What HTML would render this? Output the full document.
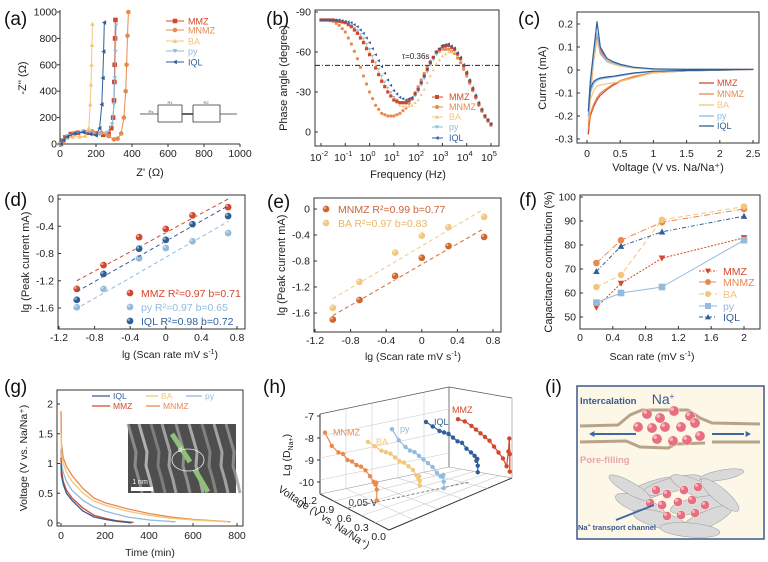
<!DOCTYPE html>
<html><head><meta charset="utf-8"><style>
html,body{margin:0;padding:0;background:#fff;}
svg{display:block;font-family:"Liberation Sans",sans-serif;}
</style></head><body>
<svg id="fig" width="768" height="562" viewBox="0 0 768 562" xmlns="http://www.w3.org/2000/svg"></svg>
<script>
// ---------- DATA ----------
const seriesNames = ["MMZ","MNMZ","BA","py","IQL"];
// (a) Nyquist
const nyqZre = {
  MMZ:[5,15,30,60,100,150,200,240,270,285,295,300,302,304,306,308],
  MNMZ:[5,20,40,80,130,180,230,270,300,320,340,355,365,370,375,380],
  BA:[5,20,40,70,110,140,160,168,172,175,178,180],
  py:[5,20,40,80,130,180,220,260,290,300,305,308,312],
  IQL:[5,20,40,80,130,170,200,220,232,238,242,246]
};
const nyqZim = {
  MMZ:[0,25,50,75,85,85,80,70,75,120,200,330,470,600,800,940],
  MNMZ:[0,30,55,80,95,95,85,60,35,40,80,200,400,600,820,1000],
  BA:[0,25,45,55,55,60,120,300,450,600,750,910],
  py:[0,30,60,85,95,85,75,85,150,300,500,700,900],
  IQL:[0,30,55,80,90,75,65,120,300,500,700,920]
};
const nyqTicks = [0,200,400,600,800,1000];
// (b) Bode phase
const bodeLogF = [-2,-1.75,-1.5,-1.25,-1,-0.75,-0.5,-0.25,0,0.25,0.5,0.75,1,1.25,1.5,1.75,2,2.25,2.5,2.75,3,3.25,3.5,3.75,4,4.25,4.5,4.75,5];
const bodePhase = {
  MMZ:[84,84,84,83,82,79,74,67,58,48,38,30,24,22,22,25,32,42,52,60,64,65,62,55,44,32,21,12,6],
  MNMZ:[84,84,83,80,75,66,55,42,30,20,14,12,12,14,18,25,34,44,53,59,62,62,59,52,42,31,20,11,5],
  BA:[84,84,84,83,82,80,76,69,60,50,40,31,24,20,19,20,24,32,42,51,57,60,60,55,45,34,23,13,6],
  py:[84,84,84,83,82,80,76,70,62,52,42,33,26,22,21,24,30,40,50,58,63,64,61,54,43,31,20,11,5],
  IQL:[84,84,84,84,83,82,79,74,67,58,49,39,31,26,24,26,32,42,52,60,65,66,63,56,45,33,22,12,6]
};
const bodeYTicks = [-90,-60,-30,0];
const bodeXTicks = [-2,-1,0,1,2,3,4,5];
// (c) CV
const cvV = [0.02,0.05,0.1,0.15,0.2,0.3,0.4,0.5,0.7,1.0,1.5,2.0,2.5];
const cvUp = {
  MMZ:[-0.28,-0.1,0.05,0.15,0.09,0.05,0.035,0.025,0.01,0.004,0.002,0.002,0.002],
  MNMZ:[-0.26,-0.1,0.04,0.13,0.08,0.04,0.03,0.02,0.01,0.004,0.002,0.002,0.002],
  BA:[-0.22,-0.08,0.05,0.13,0.07,0.035,0.025,0.017,0.008,0.003,0.002,0.002,0.002],
  py:[-0.2,-0.06,0.07,0.16,0.07,0.04,0.03,0.02,0.01,0.004,0.002,0.002,0.002],
  IQL:[-0.18,-0.05,0.08,0.21,0.1,0.05,0.035,0.025,0.012,0.005,0.003,0.003,0.003]
};
const cvDown = {
  MMZ:[-0.28,-0.2,-0.16,-0.13,-0.11,-0.085,-0.065,-0.05,-0.03,-0.012,-0.004,-0.001,0.002],
  MNMZ:[-0.26,-0.19,-0.15,-0.12,-0.1,-0.08,-0.06,-0.046,-0.028,-0.01,-0.004,-0.001,0.002],
  BA:[-0.22,-0.13,-0.09,-0.07,-0.065,-0.06,-0.055,-0.05,-0.035,-0.012,-0.004,-0.001,0.002],
  py:[-0.2,-0.1,-0.06,-0.045,-0.04,-0.035,-0.03,-0.025,-0.015,-0.006,-0.002,0,0.002],
  IQL:[-0.18,-0.08,-0.05,-0.04,-0.035,-0.03,-0.027,-0.022,-0.013,-0.005,-0.002,0,0.003]
};
const cvXTicks = [0,0.5,1,1.5,2,2.5];
const cvXLabels = ["0","0.5","1","1.5","2","2.5"];
const cvYTicks = [0.2,0.1,0,-0.1,-0.2,-0.3];
const cvYLabels = ["0.2","0.1","0","-0.1","-0.2","-0.3"];
// (d),(e) b-value
const lgScan = [-1,-0.7,-0.3,0,0.3,0.7];
const dPeak = {
  MMZ:[-1.32,-0.97,-0.56,-0.44,-0.24,-0.12],
  py:[-1.59,-1.32,-0.87,-0.72,-0.62,-0.5],
  IQL:[-1.48,-1.1,-0.73,-0.6,-0.37,-0.25]
};
const dFitX = {MMZ:[-1,0.7],py:[-0.95,0.7],IQL:[-1,0.7]};
const dFitY = {MMZ:[-1.2,0],py:[-1.57,-0.33],IQL:[-1.36,-0.1]};
const dLegend = ["MMZ R\u00b2=0.97 b=0.71","py R\u00b2=0.97 b=0.65","IQL R\u00b2=0.98 b=0.72"];
const ePeak = {
  MNMZ:[-1.7,-1.4,-1.03,-0.75,-0.57,-0.43],
  BA:[-1.52,-1.12,-0.67,-0.41,-0.28,-0.12]
};
const eFitX = {MNMZ:[-1,0.7],BA:[-1,0.7]};
const eFitY = {MNMZ:[-1.64,-0.3],BA:[-1.38,0]};
const lgXTicks = [-1.2,-0.8,-0.4,0,0.4,0.8];
const lgXLabels = ["-1.2","-0.8","-0.4","0","0.4","0.8"];
const lgYTicks = [0,-0.4,-0.8,-1.2,-1.6];
const lgYLabels = ["0","-0.4","-0.8","-1.2","-1.6"];
// (f) capacitance contribution
const fRate = [0.2,0.5,1,2];
const fCap = {
  MMZ:[54,64,74.5,83],
  MNMZ:[72.5,82,89.5,95],
  BA:[62.5,67.5,90.5,96],
  py:[56,60,62.5,82],
  IQL:[69,79.5,85.5,92]
};
const fXTicks = [0,0.4,0.8,1.2,1.6,2];
const fXLabels = ["0","0.4","0.8","1.2","1.6","2"];
const fYTicks = [50,60,70,80,90,100];
// (g) discharge
const gTime = {
  IQL:[0,2,10,25,50,100,150,200,250,300,320],
  MMZ:[0,2,10,25,50,100,150,200,250,300,330],
  py:[0,2,10,25,50,100,150,200,300,400,520],
  BA:[0,2,10,25,50,100,150,200,300,400,500,600,760],
  MNMZ:[0,2,10,25,50,100,150,200,300,400,500,600,770]
};
const gVolt = {
  IQL:[1.0,0.8,0.65,0.5,0.38,0.2,0.1,0.06,0.03,0.01,0.0],
  MMZ:[1.1,0.9,0.7,0.55,0.42,0.25,0.13,0.08,0.04,0.02,0.01],
  py:[1.25,1.0,0.85,0.7,0.55,0.38,0.27,0.2,0.1,0.05,0.02],
  BA:[1.5,1.2,1.0,0.85,0.7,0.5,0.37,0.3,0.2,0.13,0.08,0.05,0.02],
  MNMZ:[1.88,1.35,1.1,0.95,0.8,0.58,0.42,0.34,0.24,0.16,0.1,0.06,0.02]
};
const gXTicks = [0,200,400,600,800];
const gYTicks = [0,0.5,1,1.5,2];
const gYLabels = ["0","0.5","1","1.5","2"];
// (h) 3D diffusion
const hOrder = ["MNMZ","BA","py","IQL","MMZ"];
const hVolt = [1.2,1.05,0.9,0.8,0.7,0.6,0.5,0.4,0.3,0.2,0.12,0.08,0.06,0.05,0.05];
const hLgD = {
  MNMZ:[-7.8,-8.3,-8.5,-8.5,-8.7,-8.7,-8.8,-8.8,-8.9,-9.1,-9.3,-9.4,-9.3,-9.6,-10.1],
  BA:[-8.4,-8.5,-8.6,-8.6,-8.6,-8.7,-8.8,-8.8,-8.9,-9.0,-9.2,-9.3,-9.2,-9.4,-9.6],
  py:[-8.1,-8.5,-8.7,-8.8,-8.8,-8.9,-9.0,-9.1,-9.2,-9.4,-9.5,-9.5,-9.4,-9.7,-10.0],
  IQL:[-8.0,-8.1,-8.2,-8.2,-8.2,-8.3,-8.4,-8.4,-8.6,-8.7,-8.8,-9.0,-8.9,-9.2,-9.5],
  MMZ:[-8.1,-8.1,-8.2,-8.3,-8.4,-8.5,-8.6,-8.8,-9.0,-9.2,-9.5,-8.8,-8.2,-8.9,-9.7]
};
const hZTicks = [-7,-8,-9,-10];
const hVTicks = [1.2,0.9,0.6,0.3,0.0];
const hVLabels = ["1.2","0.9","0.6","0.3","0.0"];

const COL = {MMZ:"#d2482c",MNMZ:"#e98a4c",BA:"#f3c67c",py:"#92bbdd",IQL:"#305f98"};
const NS = "http://www.w3.org/2000/svg";
const svg = document.getElementById("fig");

function mk(tag, parent){ const e=document.createElementNS(NS,tag); (parent||svg).appendChild(e); return e; }
function lin(d0,d1,r0,r1){ return v => r0+(v-d0)*(r1-r0)/(d1-d0); }
function setA(e,o){ for(const k in o) e.setAttribute(k,o[k]); return e; }
function group(name){ const g=mk("g"); 

 return g; }
function txt(g,name,x,y,s,size,anchor,fill,extra){
  const t=mk("text",g);
  
  
  setA(t,{x:x,y:y,"font-size":size||10,"text-anchor":anchor||"middle",fill:fill||"#222"});
  if(extra) setA(t,extra);
  t.textContent=s; return t;
}
function line(g,name,x1,y1,x2,y2,stroke,w,dash){
  const l=mk("line",g);
  
  
  setA(l,{x1:x1,y1:y1,x2:x2,y2:y2,stroke:stroke||"#333","stroke-width":w||1});
  if(dash) l.setAttribute("stroke-dasharray",dash);
  return l;
}
function poly(g,name,pts,stroke,w,dash,fill){
  const p=mk("polyline",g);
  
  
  setA(p,{points:pts.map(q=>q[0].toFixed(1)+","+q[1].toFixed(1)).join(" "),fill:fill||"none",stroke:stroke,"stroke-width":w||1,"stroke-linejoin":"round"});
  if(dash) p.setAttribute("stroke-dasharray",dash);
  return p;
}
function marker(g,name,shape,x,y,r,fill){
  let e;
  if(shape==="circle"){ e=mk("circle",g); setA(e,{cx:x,cy:y,r:r}); }
  else if(shape==="square"){ e=mk("rect",g); setA(e,{x:x-r,y:y-r,width:2*r,height:2*r}); }
  else { e=mk("polygon",g); let p;
    if(shape==="up") p=[[x,y-r],[x+r,y+r*0.8],[x-r,y+r*0.8]];
    else if(shape==="down") p=[[x,y+r],[x+r,y-r*0.8],[x-r,y-r*0.8]];
    else p=[[x-r,y],[x+r*0.8,y-r],[x+r*0.8,y+r]];
    e.setAttribute("points",p.map(q=>q.join(",")).join(" ")); }
  
  
  e.setAttribute("fill",fill); return e;
}
function ball(g,name,x,y,r,fill){
  const c=mk("circle",g);
  
  
  setA(c,{cx:x,cy:y,r:r,fill:fill,stroke:"#fff","stroke-width":0.5});
  const h=mk("circle",g); setA(h,{cx:x-r*0.35,cy:y-r*0.35,r:r*0.35,fill:"#fff",opacity:0.5});
  
  
}
function frame(g,name,x0,y0,x1,y1){
  const r=mk("rect",g);
  
  
  setA(r,{x:x0,y:y0,width:x1-x0,height:y1-y0,fill:"none",stroke:"#333","stroke-width":1});
}
function xTicks(g,prefix,ticks,labels,X,yb,ly,inward){
  ticks.forEach((t,i)=>{ line(g,prefix+"-tick",X(t),yb,X(t),yb+(inward?-3:3),"#333",1);
    txt(g,prefix+"-label",X(t),ly,labels?labels[i]:String(t),10.5); });
}
function yTicks(g,prefix,ticks,labels,Y,xl,lx,inward){
  ticks.forEach((t,i)=>{ line(g,prefix+"-tick",xl,Y(t),xl+(inward?3:-3),Y(t),"#333",1);
    txt(g,prefix+"-label",lx,Y(t)+3.5,labels?labels[i]:String(t),10.5,"end"); });
}
function panelLabel(s,x,y){ const g=group("panel-label-"+s.replace(/[()]/g,"")); txt(g,"panel-label",x,y,s,19,"start","#111"); }
function ytitle(g,name,x,y,s,size){ const t=txt(g,name,x,y,s,size||11,"middle","#222"); t.setAttribute("transform","rotate(-90 "+x+" "+y+")"); return t;}

// ---------- (a) ----------
(function(){
  const g=group("panel-a-nyquist");
  const X=lin(0,1000,60,240), Y=lin(0,1000,144,12);
  line(g,"x-axis",60,144,240,144); line(g,"y-axis",60,144,60,10);
  xTicks(g,"x-tick",nyqTicks,null,X,144,157);
  yTicks(g,"y-tick",nyqTicks,null,Y,60,57);
  txt(g,"x-axis-title",150,176,"Z' (\u03a9)",11);
  ytitle(g,"y-axis-title",26,78,"-Z'' (\u03a9)");
  const shapes={MMZ:"square",MNMZ:"circle",BA:"up",py:"down",IQL:"left"};
  seriesNames.forEach(s=>{
    const pts=nyqZre[s].map((v,i)=>[X(v),Y(nyqZim[s][i])]);
    poly(g,"nyquist-line-"+s,pts,COL[s],1);
    pts.forEach(p=>marker(g,"nyquist-point-"+s,shapes[s],p[0],p[1],2.3,COL[s]));
  });
  const ly=[21,30,41,51,62];
  seriesNames.forEach((s,i)=>{ line(g,"legend-line-"+s,166,ly[i],184,ly[i],COL[s],1);
    marker(g,"legend-marker-"+s,shapes[s],175,ly[i],2.3,COL[s]);
    txt(g,"legend-label-"+s,188,ly[i]+3.5,s,9,"start",COL[s]); });
  const c=group("equivalent-circuit");
  poly(c,"circuit-wire",[[140,114],[158,114]],"#333",0.8);
  poly(c,"circuit-wire",[[158,105],[158,122]],"#333",0.8);
  poly(c,"circuit-wire",[[158,105],[182,105],[182,122],[158,122]],"#333",0.8);
  poly(c,"circuit-wire",[[182,114],[193,114]],"#333",1.5);
  poly(c,"circuit-wire",[[193,105],[220,105],[220,122],[193,122],[193,105]],"#333",0.8);
  poly(c,"circuit-wire",[[220,114],[237,114]],"#333",0.8);
  txt(c,"circuit-label",151,113,"Rs",4,"middle","#555");
  txt(c,"circuit-label",170,104,"R1",4,"middle","#555");
  txt(c,"circuit-label",206,104,"R2",4,"middle","#555");
})();

// ---------- (b) ----------
(function(){
  const g=group("panel-b-bode");
  const X=lin(-2,5,321,491), Y=lin(0,90,132,12);
  frame(g,"plot-frame",315,10,499,146);
  bodeXTicks.forEach(t=>{ line(g,"x-tick",X(t),146,X(t),143);
    const tx=txt(g,"x-tick-label",X(t)-2,161,"10",10.5);
    const sp=mk("tspan",tx); setA(sp,{dy:-5,"font-size":7.5}); sp.textContent=String(t); });
  yTicks(g,"y-tick",bodeYTicks.map(v=>-v),bodeYTicks.map(String),Y,315,311,true);
  txt(g,"x-axis-title",408,178,"Frequency (Hz)",11);
  ytitle(g,"y-axis-title",287,78,"Phase angle (degree)");
  line(g,"tau-reference-line",315,Y(50),499,Y(50),"#222",1,"5,2,1,2");
  txt(g,"tau-label",402,59,"\u03c4=0.36s",8,"start","#222");
  const shapes={MMZ:"square",MNMZ:"circle",BA:"up",py:"down",IQL:"left"};
  ["MNMZ","BA","py","MMZ","IQL"].forEach(s=>{
    bodeLogF.forEach((f,i)=>{ marker(g,"bode-point-"+s,shapes[s],X(f),Y(bodePhase[s][i]),1.6,COL[s]);
      if(i<bodeLogF.length-1){ const f2=(f+bodeLogF[i+1])/2, p2=(bodePhase[s][i]+bodePhase[s][i+1])/2;
        marker(g,"bode-point-"+s,shapes[s],X(f2),Y(p2),1.6,COL[s]); } });
  });
  const ly=[97,107,117,127,138];
  seriesNames.forEach((s,i)=>{ line(g,"legend-line-"+s,432,ly[i],443,ly[i],COL[s],1);
    marker(g,"legend-marker-"+s,shapes[s],437,ly[i],2,COL[s]);
    txt(g,"legend-label-"+s,449,ly[i]+3,s,9,"start",COL[s]); });
})();

// ---------- (c) ----------
(function(){
  const g=group("panel-c-cv");
  const X=lin(0,2.5,587,753), Y=lin(0,0.2,70,24);
  frame(g,"plot-frame",577,12,759,143);
  xTicks(g,"x-tick",cvXTicks,cvXLabels,X,143,157,true);
  yTicks(g,"y-tick",cvYTicks,cvYLabels,Y,577,573,true);
  txt(g,"x-axis-title",668,171,"Voltage (V vs. Na/Na\u207a)",11);
  ytitle(g,"y-axis-title",546,78,"Current (mA)");
  ["MMZ","MNMZ","BA","py","IQL"].forEach(s=>{
    const up=cvV.map((v,i)=>[X(v),Y(cvUp[s][i])]);
    const dn=cvV.map((v,i)=>[X(v),Y(cvDown[s][i])]).reverse();
    poly(g,"cv-loop-"+s,up.concat(dn).concat([up[0]]),COL[s],1.2);
  });
  const ly=[83,94,105,116,126];
  seriesNames.forEach((s,i)=>{ line(g,"legend-line-"+s,699,ly[i],714,ly[i],COL[s],1.3);
    txt(g,"legend-label-"+s,717,ly[i]+3,s,9,"start",COL[s]); });
})();

// ---------- (d) ----------
(function(){
  const g=group("panel-d-bvalue");
  const X=lin(-1.2,0.8,59,237), Y=lin(0,-1.6,199,308);
  frame(g,"plot-frame",58,195,245,329);
  xTicks(g,"x-tick",lgXTicks,lgXLabels,X,329,341,true);
  yTicks(g,"y-tick",lgYTicks,lgYLabels,Y,58,54,true);
  const t=txt(g,"x-axis-title",170,358,"lg (Scan rate mV s",10.5);
  const sp=mk("tspan",t); setA(sp,{dy:-4,"font-size":7}); sp.textContent="-1";
  const sp2=mk("tspan",t); setA(sp2,{dy:4}); sp2.textContent=")";
  ytitle(g,"y-axis-title",29,262,"lg (Peak current mA)");
  ["MMZ","py","IQL"].forEach((s,k)=>{
    line(g,"fit-line-"+s,X(dFitX[s][0]),Y(dFitY[s][0]),X(dFitX[s][1]),Y(dFitY[s][1]),COL[s],1,"4,3");
    lgScan.forEach((v,i)=>ball(g,"point-"+s,X(v),Y(dPeak[s][i]),3.6,COL[s]));
    const ly=[293,307,321][k];
    ball(g,"legend-marker-"+s,130,ly,3.6,COL[s]);
    txt(g,"legend-label-"+s,141,ly+4,dLegend[k],10.5,"start",COL[s]);
  });
})();

// ---------- (e) ----------
(function(){
  const g=group("panel-e-bvalue");
  const X=lin(-1.2,0.8,315,493), Y=lin(0,-1.6,209,313);
  frame(g,"plot-frame",314,198,501,332);
  xTicks(g,"x-tick",lgXTicks,lgXLabels,X,332,344,true);
  yTicks(g,"y-tick",lgYTicks,lgYLabels,Y,314,310,true);
  const t=txt(g,"x-axis-title",413,360,"lg (Scan rate mV s",10.5);
  const sp=mk("tspan",t); setA(sp,{dy:-4,"font-size":7}); sp.textContent="-1";
  const sp2=mk("tspan",t); setA(sp2,{dy:4}); sp2.textContent=")";
  ytitle(g,"y-axis-title",285,265,"lg (Peak current mA)");
  const leg=["MNMZ  R\u00b2=0.99 b=0.77","BA R\u00b2=0.97 b=0.83"];
  const lc={MNMZ:"#d2672e",BA:"#f0c884"};
  ["MNMZ","BA"].forEach((s,k)=>{
    line(g,"fit-line-"+s,X(eFitX[s][0]),Y(eFitY[s][0]),X(eFitX[s][1]),Y(eFitY[s][1]),lc[s],1,"4,3");
    ePeak[s].forEach((v,i)=>ball(g,"point-"+s,X(lgScan[i]),Y(v),3.6,lc[s]));
    const ly=[209,223][k];
    ball(g,"legend-marker-"+s,326,ly,3.6,lc[s]);
    txt(g,"legend-label-"+s,338,ly+4,leg[k],10.5,"start",k?"#e9b860":"#c8653a");
  });
})();

// ---------- (f) ----------
(function(){
  const g=group("panel-f-capacitance");
  const X=lin(0,2,580,744), Y=lin(100,50,197,317);
  frame(g,"plot-frame",580,195,760,329);
  xTicks(g,"x-tick",fXTicks,fXLabels,X,329,341,true);
  yTicks(g,"y-tick",fYTicks,null,Y,580,576,true);
  const t=txt(g,"x-axis-title",652,360,"Scan rate (mV s",10.5);
  const sp=mk("tspan",t); setA(sp,{dy:-4,"font-size":7}); sp.textContent="-1";
  const sp2=mk("tspan",t); setA(sp2,{dy:4}); sp2.textContent=")";
  ytitle(g,"y-axis-title",552,262,"Capacitance contribution (%)");
  const shapes={MMZ:"down",MNMZ:"circle",BA:"circle",py:"square",IQL:"up"};
  const dash={MMZ:"2,1.5",MNMZ:"6,2,1,2",BA:"5,3",py:"",IQL:"4,2,1,2"};
  seriesNames.forEach((s,k)=>{
    const pts=fRate.map((v,i)=>[X(v),Y(fCap[s][i])]);
    poly(g,"series-line-"+s,pts,COL[s],1,dash[s]);
    pts.forEach(p=>marker(g,"series-marker-"+s,shapes[s],p[0],p[1],3.3,COL[s]));
    const ly=[271,282,294,306,317][k];
    line(g,"legend-line-"+s,699,ly,717,ly,COL[s],1,dash[s]);
    marker(g,"legend-marker-"+s,shapes[s],708,ly,3,COL[s]);
    txt(g,"legend-label-"+s,723,ly+4,s,10.5,"start",COL[s]);
  });
})();

// ---------- (g) ----------
(function(){
  const g=group("panel-g-discharge");
  const X=lin(0,800,61,237), Y=lin(0,2,523,404);
  frame(g,"plot-frame",57,390,243,526);
  xTicks(g,"x-tick",gXTicks,null,X,526,539,true);
  yTicks(g,"y-tick",gYTicks,gYLabels,Y,57,53,true);
  txt(g,"x-axis-title",150,556,"Time (min)",10.5);
  ytitle(g,"y-axis-title",27,458,"Voltage (V vs. Na/Na\u207a)",10.5);
  const ins=group("tem-inset");
  const r=mk("rect",ins); setA(r,{x:128,y:424,width:108,height:69,fill:"#4e4e4e"});
  
  
  const fr=[[132,"#9a9a9a"],[143,"#c9c9c9"],[155,"#8a8a8a"],[166,"#b5b5b5"],[180,"#9f9f9f"],[193,"#c0c0c0"],[206,"#8e8e8e"],[218,"#b8b8b8"],[230,"#9a9a9a"]];
  fr.forEach(a=>{ const x0=a[0]; const p=poly(ins,"lattice-fringe",[[x0-4,424],[x0,438],[x0+4,452],[x0+3,466],[x0+7,480],[x0+10,493]],a[1],3);
    p.setAttribute("opacity","0.8"); });
  line(ins,"lattice-marker",172,434,190,462,"#8fc07a",5);
  line(ins,"lattice-marker",195,470,208,492,"#8fc07a",5);
  const el=mk("ellipse",ins); setA(el,{cx:188,cy:460,rx:16,ry:11,fill:"none",stroke:"#eee","stroke-width":0.8});
  
  
  txt(ins,"d-spacing-label",180,452,"d",7,"middle","#fff");
  txt(ins,"scale-bar-label",140,484,"1 nm",7,"middle","#fff");
  const sb=mk("rect",ins); setA(sb,{x:131,y:487,width:22,height:4,fill:"#fff"});
  
  
  ["MNMZ","BA","py","MMZ","IQL"].forEach(s=>{
    poly(g,"discharge-curve-"+s,gTime[s].map((v,i)=>[X(v),Y(gVolt[s][i])]),COL[s],1.3);
  });
  const L=[["IQL",92,110,396],["BA",146,158,396],["py",186,202,396],["MMZ",92,110,406],["MNMZ",146,160,406]];
  L.forEach(a=>{ line(g,"legend-line-"+a[0],a[1],a[3],a[2],a[3],COL[a[0]],1.3);
    txt(g,"legend-label-"+a[0],a[2]+3,a[3]+3,a[0],8.5,"start",COL[a[0]]); });
})();

// ---------- (h) ----------
(function(){
  const g=group("panel-h-3d-diffusion");
  const gc="#ccc";
  poly(g,"back-wall-edge",[[320,414],[449,387],[512,398]],"#555",0.8);
  line(g,"z-axis",320,414,320,494,"#333",1);
  line(g,"back-right-edge",449,387,449,467,"#555",0.8);
  line(g,"right-edge",512,398,512,478,"#aaa",0.8);
  poly(g,"floor-edge",[[320,494],[389,530],[512,478]],"#333",1);
  poly(g,"floor-back-edge",[[320,494],[449,467],[512,478]],"#999",0.6);
  for(let k=1;k<5;k++){ const x=320+k*26,y=414-k*5.4; line(g,"back-wall-grid",x,y,x,y+80,gc,0.6); }
  for(let k=1;k<4;k++){ line(g,"back-wall-grid",320,414+k*22,449,387+k*22,gc,0.6); }
  for(let k=1;k<5;k++){ const t=k/5; line(g,"floor-grid",320+69*t,494+36*t,449+63*t,467+11*t,gc,0.6);
    line(g,"floor-grid",320+129*t,494-27*t,389+123*t,530-52*t,gc,0.6); }
  line(g,"cutoff-line",348,508,470,482,"#666",0.8,"3,2");
  txt(g,"cutoff-label",363,506,"0.05 V",10,"middle","#444");
  hZTicks.forEach(z=>{ const y=414+(-7-z)*22+2; txt(g,"z-tick-label",314,y+4,String(z),10.5,"end"); line(g,"z-tick",320,y,317,y,"#333"); });
  hVTicks.forEach((v,i)=>{ const t=(1.2-v)/1.2; txt(g,"v-tick-label",321+69*t-4,499+36*t+5,hVLabels[i],10.5,"end"); });
  const lt=txt(g,"z-axis-title",290,455,"Lg (D",10.5,"middle","#222");
  const s1=mk("tspan",lt); setA(s1,{dy:3,"font-size":7}); s1.textContent="Na+";
  const s2=mk("tspan",lt); setA(s2,{dy:-3}); s2.textContent=")";
  lt.setAttribute("transform","rotate(-90 290 455)");
  const vt=txt(g,"voltage-axis-title",322,520,"Voltage (V vs. Na/Na\u207a)",10.5,"middle","#222");
  vt.setAttribute("transform","rotate(33 322 520)");
  const baseX=[325,368,392,426,458], baseY=[481,477,471,466,461];
  const PX=45, PY=15, ZS=22;
  hOrder.forEach((s,k)=>{
    const pts=hVolt.map((v,i)=>[baseX[k]+(1.2-v)*PX, baseY[k]+(1.2-v)*PY-(hLgD[s][i]+10)*ZS]);
    poly(g,"diffusion-line-"+s,pts,COL[s],1.2);
    pts.forEach(p=>marker(g,"diffusion-point-"+s,"circle",p[0],p[1],2.2,COL[s]));
    txt(g,"series-label-"+s,pts[0][0]+(s==="MMZ"?-6:8),pts[0][1]+(s==="MMZ"?-6:3),s,9,"start",COL[s]);
  });
})();

// ---------- (i) ----------
(function(){
  const g=group("panel-i-mechanism");
  const r=mk("rect",g); setA(r,{x:577,y:386,width:187,height:153,fill:"#fdf7e8",stroke:"#3a5a8c","stroke-width":1.5});
  
  
  txt(g,"intercalation-label",580,404,"Intercalation",9.5,"start","#3a5a8c",{"font-weight":"bold"});
  const na=txt(g,"na-ion-label",663,404,"Na",14,"middle","#3a5a8c");
  const sp=mk("tspan",na); setA(sp,{dy:-5,"font-size":8}); sp.textContent="+";
  poly(g,"carbon-layer-top",[[580,426],[618,425],[630,415],[642,410],[688,410],[700,418],[712,423],[760,424]],"#b5a48a",3);
  poly(g,"carbon-layer-bottom",[[580,442],[626,441],[640,447],[668,448],[676,444],[705,443]],"#b5a48a",3);
  line(g,"carbon-layer-bottom-right",712,442,760,442,"#b5a48a",3);
  line(g,"arrow-left",636,434,594,434,"#3a6aa0",2);
  marker(g,"arrow-left-head","left",592,434,3,"#3a6aa0");
  line(g,"arrow-right",712,434,744,434,"#3a6aa0",2);
  marker(g,"arrow-right-head","left",748,434,3,"#3a6aa0").setAttribute("transform","rotate(180 748 434)");
  const ions=[[647,414],[660,418],[674,411],[690,416],[652,428],[665,427],[681,427],[695,423],[657,439],[673,441],[687,440],[700,436],[638,427]];
  ions.forEach(p=>ball(g,"na-ion",p[0],p[1],5.2,"#e8707e"));
  txt(g,"pore-filling-label",580,463,"Pore-filling",9.5,"start","#e8a4aa",{"font-weight":"bold"});
  const sheets=[[650,490,32,8,-20],[672,485,30,7,-15],[700,490,32,8,25],[640,505,26,8,20],[700,505,30,8,-10],[660,520,28,8,15],[705,520,30,8,-25],[630,488,24,6,30],[722,475,22,5,-10],[690,530,30,7,5],[720,495,24,7,40]];
  sheets.forEach(a=>{ const e=mk("ellipse",g); setA(e,{cx:a[0],cy:a[1],rx:a[2],ry:a[3],fill:"#d9d9d9",stroke:"#999","stroke-width":0.5,transform:"rotate("+a[4]+" "+a[0]+" "+a[1]+")"});
    
     });
  const ions2=[[656,490],[667,494],[684,490],[698,487],[650,503],[662,505],[678,502],[692,500],[667,516],[681,515],[695,513],[705,505]];
  ions2.forEach(p=>ball(g,"na-ion-pore",p[0],p[1],4.6,"#e8707e"));
  line(g,"channel-arrow",616,520,654,505,"#3a6aa0",1.8);
  const ct=txt(g,"channel-label",578,530,"Na",7.5,"start","#3a5a8c",{"font-weight":"bold"});
  const c1=mk("tspan",ct); setA(c1,{dy:-3,"font-size":5}); c1.textContent="+";
  const c2=mk("tspan",ct); setA(c2,{dy:3}); c2.textContent=" transport channel";
})();

panelLabel("(a)",4,25); panelLabel("(b)",266,25); panelLabel("(c)",518,25);
panelLabel("(d)",4,206); panelLabel("(e)",267,208); panelLabel("(f)",519,206);
panelLabel("(g)",4,393); panelLabel("(h)",263,393); panelLabel("(i)",545,393);
</script>
</body></html>
